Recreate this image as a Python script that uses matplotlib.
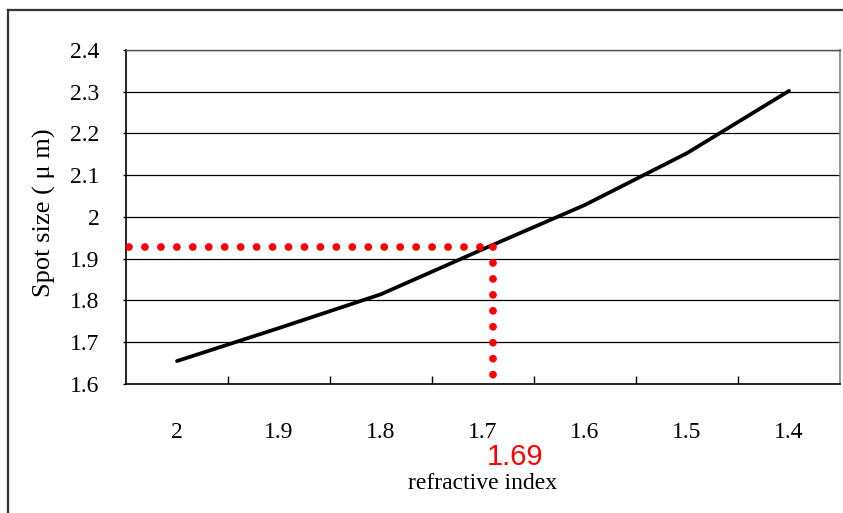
import matplotlib
matplotlib.use("Agg")
import matplotlib.pyplot as plt
from matplotlib.lines import Line2D
from matplotlib.transforms import blended_transform_factory
import numpy as np

# Data
refractive_index = ["2", "1.9", "1.8", "1.7", "1.6", "1.5", "1.4"]
spot_size = [1.655, 1.734, 1.815, 1.923, 2.029, 2.153, 2.302]
y_ticks = [1.6, 1.7, 1.8, 1.9, 2.0, 2.1, 2.2, 2.3, 2.4]
y_tick_labels = ["1.6", "1.7", "1.8", "1.9", "2", "2.1", "2.2", "2.3", "2.4"]
marked_index = 1.69
marked_spot = 1.927
marked_bottom = 1.62

serif = "Liberation Serif"

fig = plt.figure(figsize=(8.43, 5.13), dpi=100)
W, H = 843, 513
ax = fig.add_axes([126 / W, 1 - 384 / H, (840 - 126) / W, (384 - 50) / H])

xpos = np.arange(len(refractive_index))
ax.plot(xpos, spot_size, color="black", lw=2.7, solid_capstyle="round", zorder=3)

# Position of a refractive index value on the category axis (descending 0.1 steps)
def index_to_pos(n):
    first = float(refractive_index[0])
    return (first - n) / 0.1

mx = index_to_pos(marked_index)
dot_style = dict(color="#FF0000", lw=5.6, linestyle=(0, (0.001, 2.05)),
                 dash_capstyle="round", zorder=4)
ax.plot([-0.47, mx], [marked_spot, marked_spot], **dot_style)
ax.plot([mx, mx], [marked_spot, marked_bottom], **dot_style)

ax.set_xlim(-0.5, len(refractive_index) - 0.5)
ax.set_ylim(1.6, 2.4)

# Gridlines
for yv in y_ticks[1:]:
    ax.axhline(yv, color="black", lw=0.9, zorder=1)

ax.set_yticks(y_ticks)
ax.set_yticklabels(y_tick_labels, fontfamily=serif, fontsize=17)
ax.tick_params(axis="y", direction="out", length=2, width=1, pad=17, colors="black")

# Category axis: tick marks between categories, labels at centers
ax.set_xticks(np.arange(0.5, len(refractive_index) - 1, 1.0))
ax.set_xticklabels([])
ax.tick_params(axis="x", which="major", direction="in", length=6, width=1, color="black")
ax.set_xticks(xpos, minor=True)
ax.set_xticklabels(refractive_index, minor=True, fontfamily=serif, fontsize=17)
ax.tick_params(axis="x", which="minor", length=0, pad=27)

ax.set_xlabel("refractive index", fontfamily=serif, fontsize=17, labelpad=22)
fig.text(44 / W, 1 - 213 / H, "Spot size ( \u03bc m)", rotation=90,
         ha="center", va="center", fontfamily=serif, fontsize=19)

for side in ["left", "bottom"]:
    ax.spines[side].set_color("black")
    ax.spines[side].set_linewidth(1.2)
ax.spines["right"].set_color("#808080")
ax.spines["right"].set_linewidth(1.2)
ax.spines["top"].set_color("#555555")
ax.spines["top"].set_linewidth(1.0)

# Marked value label
trans = blended_transform_factory(ax.transData, ax.transAxes)
ax.annotate(f"{marked_index:.2f}", xy=(mx, 0), xycoords=trans,
            xytext=(-6, -73), textcoords="offset pixels",
            ha="left", va="center", color="#FF0000",
            fontfamily="Liberation Sans", fontsize=21, annotation_clip=False)

# Chart area frame
fig.add_artist(Line2D([8 / W, 1.0], [1 - 10 / H, 1 - 10 / H], transform=fig.transFigure,
                      color="#333333", lw=1.6))
fig.add_artist(Line2D([8 / W, 8 / W], [1 - 10 / H, 0.0], transform=fig.transFigure,
                      color="#333333", lw=1.6))

fig.savefig("out.png", dpi=100, facecolor="white")
